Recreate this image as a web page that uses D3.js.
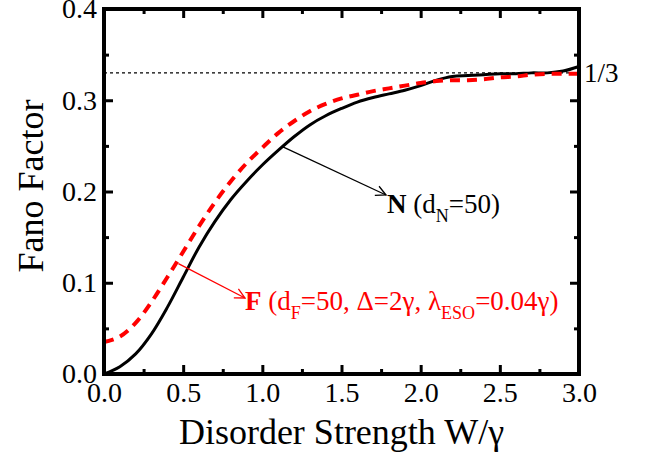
<!DOCTYPE html>
<html><head><meta charset="utf-8">
<script src="https://cdn.jsdelivr.net/npm/d3@7"></script>
<style>body{margin:0;background:#fff}svg{display:block}svg text{font-family:"Liberation Serif","Times New Roman",serif !important}</style>
</head><body><div id="chart"></div>
<script>
const xValues = [0,0.1,0.2,0.3,0.4,0.5,0.6,0.7,0.8,0.9,1.0,1.1,1.2,1.3,1.4,1.5,1.6,1.7,1.8,1.9,2.0,2.1,2.2,2.3,2.4,2.5,2.6,2.7,2.8,2.9,3.0];
const seriesN = [0,0.008,0.022,0.044,0.073,0.106,0.139,0.167,0.191,0.211,0.229,0.245,0.260,0.273,0.283,0.291,0.298,0.303,0.307,0.311,0.316,0.322,0.326,0.327,0.328,0.329,0.329,0.330,0.330,0.332,0.337];
const seriesF = [0.035,0.041,0.056,0.079,0.106,0.134,0.162,0.188,0.211,0.231,0.248,0.264,0.277,0.288,0.296,0.302,0.306,0.310,0.313,0.316,0.319,0.321,0.322,0.322,0.323,0.325,0.326,0.328,0.329,0.329,0.329];
const refLevel = 0.33;
const xTicks = [0,0.5,1.0,1.5,2.0,2.5,3.0];
const xMinorTicks = [0.25,0.75,1.25,1.75,2.25,2.75];
const yTicks = [0,0.1,0.2,0.3,0.4];
const yMinorTicks = [0.05,0.15,0.25,0.35];

const W = 649, H = 457;
const m = {left:104, right:70, top:9, bottom:83};
const svg = d3.select("#chart").append("svg").attr("width",W).attr("height",H);
const x = d3.scaleLinear().domain([0,3]).range([m.left, W-m.right]);
const y = d3.scaleLinear().domain([0,0.4]).range([H-m.bottom, m.top]);

// reference line
svg.append("line").attr("x1",x(0)).attr("x2",x(3)).attr("y1",y(refLevel)).attr("y2",y(refLevel))
  .attr("stroke","#000").attr("stroke-width",1.3).attr("stroke-dasharray","3,3");

const line = d3.line().x((d,i)=>x(xValues[i])).y(d=>y(d)).curve(d3.curveCatmullRom);
svg.append("path").datum(seriesN).attr("d",line).attr("fill","none").attr("stroke","#000").attr("stroke-width",3);
svg.append("path").datum(seriesF).attr("d",line).attr("fill","none").attr("stroke","#ff0000").attr("stroke-width",4)
  .attr("stroke-dasharray","10,7");

function styleAxis(g){
  g.attr("font-family",null).attr("font-size",null);
  g.select(".domain").remove();
  g.selectAll(".tick line").attr("stroke","#000").attr("stroke-width",3);
  g.selectAll("text").attr("fill","#000").style("font-size","28px");
}
const fmt = d3.format(".1f");
svg.append("g").attr("transform",`translate(0,${y(0)})`).call(d3.axisBottom(x).tickValues(xTicks).tickFormat(fmt).tickSize(-9).tickPadding(8)).call(styleAxis);
svg.append("g").attr("transform",`translate(0,${y(0)})`).call(d3.axisBottom(x).tickValues(xMinorTicks).tickFormat("").tickSize(-5)).call(styleAxis);
svg.append("g").attr("transform",`translate(0,${y(0.4)})`).call(d3.axisTop(x).tickValues(xTicks).tickFormat("").tickSize(-9)).call(styleAxis);
svg.append("g").attr("transform",`translate(0,${y(0.4)})`).call(d3.axisTop(x).tickValues(xMinorTicks).tickFormat("").tickSize(-5)).call(styleAxis);
svg.append("g").attr("transform",`translate(${x(0)},0)`).call(d3.axisLeft(y).tickValues(yTicks).tickFormat(fmt).tickSize(-9).tickPadding(7)).call(styleAxis);
svg.append("g").attr("transform",`translate(${x(0)},0)`).call(d3.axisLeft(y).tickValues(yMinorTicks).tickFormat("").tickSize(-5)).call(styleAxis);
svg.append("g").attr("transform",`translate(${x(3)},0)`).call(d3.axisRight(y).tickValues(yTicks).tickFormat("").tickSize(-9)).call(styleAxis);
svg.append("g").attr("transform",`translate(${x(3)},0)`).call(d3.axisRight(y).tickValues(yMinorTicks).tickFormat("").tickSize(-5)).call(styleAxis);

// frame
svg.append("rect").attr("x",x(0)).attr("y",y(0.4)).attr("width",x(3)-x(0)).attr("height",y(0)-y(0.4))
  .attr("fill","none").attr("stroke","#000").attr("stroke-width",4);

// axis titles
svg.append("text").attr("x",(x(0)+x(3))/2).attr("y",444).attr("text-anchor","middle").style("font-size","36px").text("Disorder Strength W/γ");
svg.append("text").attr("transform",`translate(43,186) rotate(-90)`).attr("text-anchor","middle").style("font-size","36px").text("Fano Factor");

// 1/3 label
svg.append("text").attr("x",x(3)+5).attr("y",y(refLevel)+9).style("font-size","27px").text("1/3");

// arrows
const defs = svg.append("defs");
function marker(id,color){
  defs.append("marker").attr("id",id).attr("viewBox","0 0 12 12").attr("refX",11).attr("refY",6)
    .attr("markerWidth",12).attr("markerHeight",12).attr("markerUnits","userSpaceOnUse").attr("orient","auto")
    .append("path").attr("d","M1,1 L11,6 L1,11").attr("fill","none").attr("stroke",color).attr("stroke-width",1.3);
}
marker("arrK","#000"); marker("arrR","#ff0000");
svg.append("line").attr("x1",x(1.13)).attr("y1",y(0.249)).attr("x2",386).attr("y2",195)
  .attr("stroke","#000").attr("stroke-width",1.3).attr("marker-end","url(#arrK)");
svg.append("line").attr("x1",x(0.47)).attr("y1",y(0.121)).attr("x2",245).attr("y2",298)
  .attr("stroke","#ff0000").attr("stroke-width",1.3).attr("marker-end","url(#arrR)");

const tN = svg.append("text").attr("x",387).attr("y",213).style("font-size","27px").attr("fill","#000");
tN.append("tspan").attr("font-weight","bold").text("N");
tN.append("tspan").text(" (d");
tN.append("tspan").style("font-size","18px").attr("dy",9).text("N");
tN.append("tspan").attr("dy",-9).text("=50)");

const tF = svg.append("text").attr("x",245).attr("y",310).style("font-size","27px").attr("fill","#ff0000");
tF.append("tspan").attr("font-weight","bold").text("F");
tF.append("tspan").text(" (d");
tF.append("tspan").style("font-size","18px").attr("dy",9).text("F");
tF.append("tspan").attr("dy",-9).text("=50, Δ=2γ, λ");
tF.append("tspan").style("font-size","18px").attr("dy",9).text("ESO");
tF.append("tspan").attr("dy",-9).text("=0.04γ)");
</script></body></html>
